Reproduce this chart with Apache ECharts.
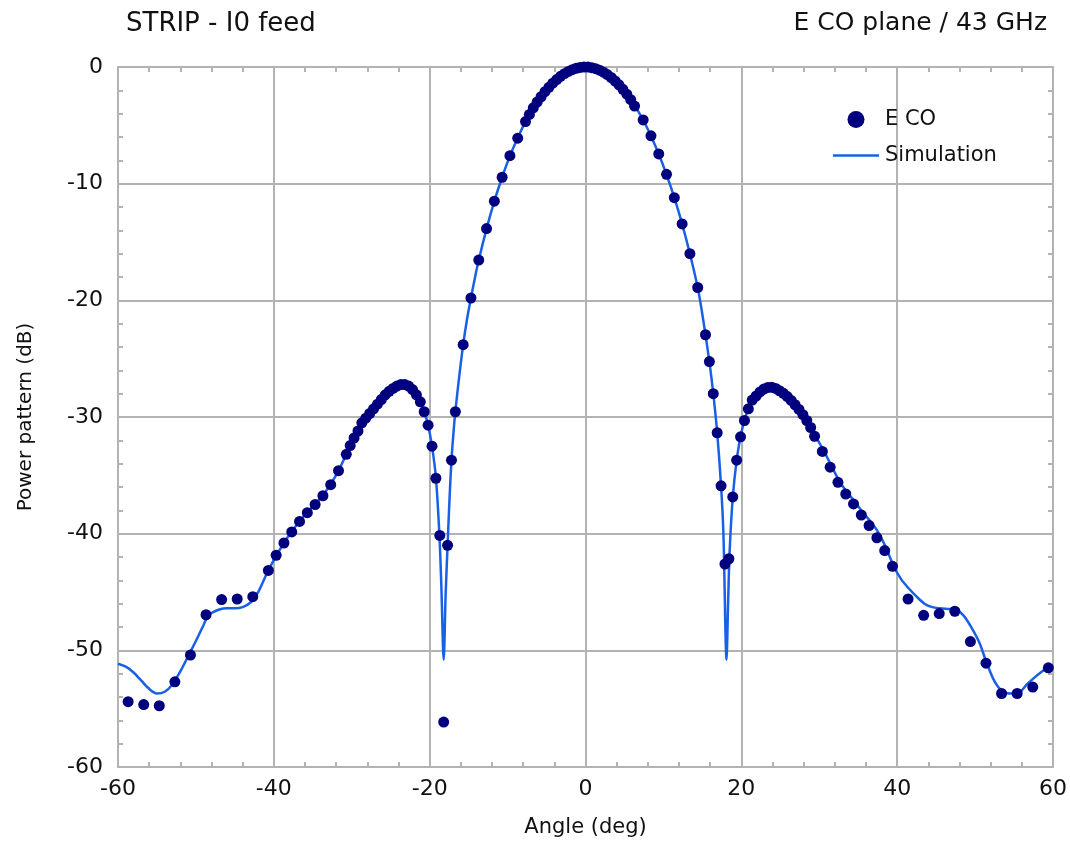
<!DOCTYPE html>
<html>
<head>
<meta charset="utf-8">
<script src="https://cdn.jsdelivr.net/npm/echarts@6/dist/echarts.min.js"></script>
<style>
  html, body { margin: 0; padding: 0; background: #fff; }
  #chart { width: 1070px; height: 843px; }
</style>
</head>
<body>
<div id="chart"></div>
<script>
// measured points (E CO)
let measAngle = [
  -58.7, -56.7, -54.7, -52.7, -50.7, -48.7, -46.7, -44.7, -42.7, -40.7,
  -39.7, -38.7, -37.7, -36.7, -35.7, -34.7, -33.7, -32.7, -31.7, -30.7,
  -30.2, -29.7, -29.2, -28.7, -28.2, -27.7, -27.2, -26.7, -26.2, -25.7,
  -25.2, -24.7, -24.2, -23.7, -23.2, -22.7, -22.2, -21.7, -21.2, -20.7,
  -20.2, -19.7, -19.2, -18.7, -18.2, -17.7, -17.2, -16.7,
  -15.7, -14.7, -13.7, -12.7, -11.7, -10.7, -9.7, -8.7,
  -7.7, -7.2, -6.7, -6.2, -5.7, -5.2, -4.7, -4.2, -3.7, -3.2,
  -2.7, -2.2, -1.7, -1.2, -0.7, -0.2, 0.3, 0.8, 1.3, 1.8,
  2.3, 2.8, 3.3, 3.8, 4.3, 4.8, 5.3, 5.8, 6.3,
  7.4, 8.4, 9.4, 10.4, 11.4, 12.4, 13.4, 14.4,
  15.4, 15.9, 16.4, 16.9, 17.4, 17.9, 18.4, 18.9, 19.4, 19.9,
  20.4, 20.9, 21.4, 21.9, 22.4, 22.9, 23.4, 23.9, 24.4, 24.9,
  25.4, 25.9, 26.4, 26.9, 27.4, 27.9, 28.4, 28.9, 29.4,
  30.4, 31.4, 32.4, 33.4, 34.4, 35.4, 36.4, 37.4, 38.4, 39.4,
  41.4, 43.4, 45.4, 47.4, 49.4, 51.4, 53.4, 55.4, 57.4, 59.4
];
let measDb = [
  -54.4, -54.65, -54.75, -52.7, -50.4, -46.95, -45.65, -45.6, -45.4, -43.15,
  -41.85, -40.8, -39.85, -38.95, -38.2, -37.5, -36.75, -35.8, -34.6, -33.2,
  -32.45, -31.8, -31.2, -30.5, -30.1, -29.7, -29.3, -28.9, -28.5, -28.1,
  -27.8, -27.55, -27.35, -27.22, -27.22, -27.35, -27.65, -28.1, -28.7, -29.55,
  -30.7, -32.5, -35.25, -40.15, -56.15, -41.0, -33.7, -29.55,
  -23.8, -19.8, -16.55, -13.85, -11.5, -9.45, -7.6, -6.1,
  -4.68, -4.07, -3.5, -3.0, -2.55, -2.12, -1.74, -1.39, -1.08, -0.8,
  -0.57, -0.38, -0.23, -0.11, -0.04, 0, -0.01, -0.06, -0.14, -0.27,
  -0.44, -0.65, -0.9, -1.2, -1.53, -1.91, -2.33, -2.8, -3.35,
  -4.54, -5.9, -7.45, -9.2, -11.2, -13.45, -16.0, -18.9,
  -22.95, -25.25, -28.0, -31.35, -35.9, -42.6, -42.15, -36.85, -33.7, -31.7,
  -30.3, -29.3, -28.55, -28.2, -27.85, -27.6, -27.47, -27.45, -27.55, -27.75,
  -27.97, -28.25, -28.58, -28.95, -29.35, -29.8, -30.3, -30.9, -31.65,
  -32.95, -34.3, -35.6, -36.6, -37.45, -38.4, -39.3, -40.35, -41.45, -42.8,
  -45.6, -47.0, -46.85, -46.65, -49.25, -51.1, -53.7, -53.7, -53.15, -51.5
];

// simulation curve
let simAngle = [
  -60, -59, -58, -57, -56, -55, -54, -53, -52, -51,
  -50, -49, -48.5, -48, -47, -46, -45, -44, -43, -42,
  -41.5, -40.75, -39.7, -38.7, -37.7, -36.7, -35.7, -34.7, -33.7, -32.7,
  -31.7, -30.7, -29.7, -28.7, -27.7, -26.7, -25.7, -24.7, -23.7, -22.7,
  -21.7, -21.2, -20.7, -20.2, -19.7, -19.2, -18.75, -18.5, -18.2, -17.95,
  -17.7, -17.45, -17.2, -16.95, -16.7, -16.2, -15.7, -15.2, -14.7, -14.2,
  -13.7, -12.7, -11.7, -10.7, -9.7, -8.7, -7.7, -6.7, -5.7, -4.7,
  -3.7, -2.7, -1.7, -0.7, 0, 0.8, 1.8, 2.8, 3.8, 4.8,
  5.8, 6.4, 7.4, 8.4, 9.4, 10.4, 11.4, 12.4, 13.4, 14.4,
  14.9, 15.4, 15.9, 16.4, 16.9, 17.4, 17.7, 18.1, 18.3, 18.5,
  18.9, 19.4, 19.9, 20.4, 20.9, 21.4, 22, 23, 23.6, 24.5,
  25.5, 26.5, 27.5, 28.5, 29.5, 30.5, 31.5, 32.5, 33.5, 34.5,
  35.5, 36.5, 37.5, 38.5, 39.5, 40.5, 41.5, 42.5, 43.5, 44.5,
  45.5, 46.5, 47.5, 48.5, 49.45, 50.57, 51.5, 52.5, 53.5, 54.6,
  55.7, 56.6, 57.5, 58.5, 59.5, 60
];
let simDb = [
  -51.15, -51.4, -51.9, -52.6, -53.3, -53.7, -53.55, -52.9, -51.8, -50.5,
  -49.2, -47.8, -47.1, -46.8, -46.5, -46.4, -46.4, -46.3, -45.9, -45.0,
  -44.3, -43.2, -41.9, -40.8, -39.8, -38.95, -38.15, -37.45, -36.7, -35.75,
  -34.6, -33.2, -31.8, -30.5, -29.65, -28.85, -28.1, -27.55, -27.2, -27.35,
  -28.1, -28.7, -29.55, -30.7, -32.5, -35.2, -40.1, -44.5, -50.8, -45.2,
  -41.0, -37.0, -33.7, -31.4, -29.5, -26.5, -23.8, -21.6, -19.8, -18.1,
  -16.55, -13.87, -11.5, -9.45, -7.62, -6.08, -4.68, -3.5, -2.55, -1.74,
  -1.08, -0.57, -0.23, -0.04, 0, -0.06, -0.27, -0.65, -1.2, -1.91,
  -2.8, -3.4, -4.54, -5.91, -7.45, -9.22, -11.19, -13.44, -16.01, -18.9,
  -20.8, -22.95, -25.26, -28.0, -31.34, -35.93, -40.0, -50.8, -46.0, -41.5,
  -36.9, -33.7, -31.7, -30.3, -29.3, -28.57, -28.1, -27.6, -27.45, -27.55,
  -28.0, -28.6, -29.4, -30.4, -31.6, -32.8, -34.1, -35.4, -36.4, -37.2,
  -38.1, -38.9, -39.8, -41.1, -42.7, -43.9, -44.7, -45.4, -46.0, -46.3,
  -46.4, -46.45, -46.5, -47.0, -47.95, -49.37, -51.1, -52.66, -53.5, -53.7,
  -53.6, -52.95, -52.4, -51.85, -51.4, -51.3
];

let xTicks = { min: -60, max: 60, step: 20 };
let yTicks = { min: -60, max: 0, step: 10 };

let gridGray = "#b3b3b3";
let font = "DejaVu Sans";
let ink = "#111111";

let chart = echarts.init(document.getElementById("chart"));

let measPts = measAngle.map((a, i) => [a, measDb[i]]);
let simPts = simAngle.map((a, i) => [a, simDb[i]]);

// mirrored axis on the top / right side: frame line and inner minor ticks only
function frameAxis(pos, t) {
  return {
    type: "value",
    position: pos,
    min: t.min,
    max: t.max,
    interval: t.step,
    axisLine: { show: true, onZero: false, lineStyle: { color: gridGray, width: 2 } },
    axisTick: { show: false, inside: true },
    minorTick: { show: true, splitNumber: 5, length: 5, lineStyle: { color: gridGray, width: 2 } },
    axisLabel: { show: false },
    splitLine: { show: false },
  };
}

chart.setOption({
  animation: false,
  backgroundColor: "#ffffff",
  title: [
    {
      text: "STRIP - I0 feed",
      left: 121,
      top: 6,
      textStyle: { fontFamily: font, fontSize: 26, fontWeight: "normal", color: ink },
    },
    {
      text: "E CO plane / 43 GHz",
      right: 18,
      top: 6,
      textStyle: { fontFamily: font, fontSize: 25, fontWeight: "normal", color: ink },
    },
  ],
  legend: {
    orient: "vertical",
    left: 828,
    top: 104,
    padding: 5,
    itemWidth: 46,
    itemHeight: 17,
    itemGap: 15,
    data: [
      { name: "E CO", icon: "circle" },
      { name: "Simulation", icon: "path://M0,0 L46,0 L46,2.6 L0,2.6 Z" },
    ],
    textStyle: { fontFamily: font, fontSize: 21, color: ink, padding: [0, 0, 0, 1] },
  },
  grid: {
    left: 118,
    right: 17,
    top: 67,
    bottom: 76,
    containLabel: false,
  },
  xAxis: [
    {
      type: "value",
      min: xTicks.min,
      max: xTicks.max,
      interval: xTicks.step,
      name: "Angle (deg)",
      nameLocation: "middle",
      nameGap: 50,
      nameTextStyle: { fontFamily: font, fontSize: 21, color: ink },
      axisLine: { show: true, onZero: false, lineStyle: { color: gridGray, width: 2 } },
      axisTick: { show: false, inside: true },
      minorTick: { show: true, splitNumber: 5, length: 5, lineStyle: { color: gridGray, width: 2 } },
      axisLabel: { fontFamily: font, fontSize: 22, color: ink, margin: 11 },
      splitLine: { show: true, lineStyle: { color: gridGray, width: 2 } },
    },
    frameAxis("top", xTicks),
  ],
  yAxis: [
    {
      type: "value",
      min: yTicks.min,
      max: yTicks.max,
      interval: yTicks.step,
      name: "Power pattern (dB)",
      nameLocation: "middle",
      nameGap: 82,
      nameTextStyle: { fontFamily: font, fontSize: 20, color: ink },
      axisLine: { show: true, onZero: false, lineStyle: { color: gridGray, width: 2 } },
      axisTick: { show: false, inside: true },
      minorTick: { show: true, splitNumber: 5, length: 5, lineStyle: { color: gridGray, width: 2 } },
      axisLabel: { fontFamily: font, fontSize: 22, color: ink, margin: 15 },
      splitLine: { show: true, lineStyle: { color: gridGray, width: 2 } },
    },
    frameAxis("right", yTicks),
  ],
  series: [
    {
      name: "Simulation",
      type: "line",
      data: simPts,
      smooth: 0.3,
      symbol: "none",
      color: "#1860e6",
      lineStyle: { color: "#1860e6", width: 2.5 },
      z: 2,
    },
    {
      name: "E CO",
      type: "scatter",
      data: measPts,
      symbol: "circle",
      symbolSize: 11,
      color: "#00007f",
      itemStyle: { color: "#00007f", opacity: 1 },
      z: 3,
    },
  ],
});
</script>
</body>
</html>
